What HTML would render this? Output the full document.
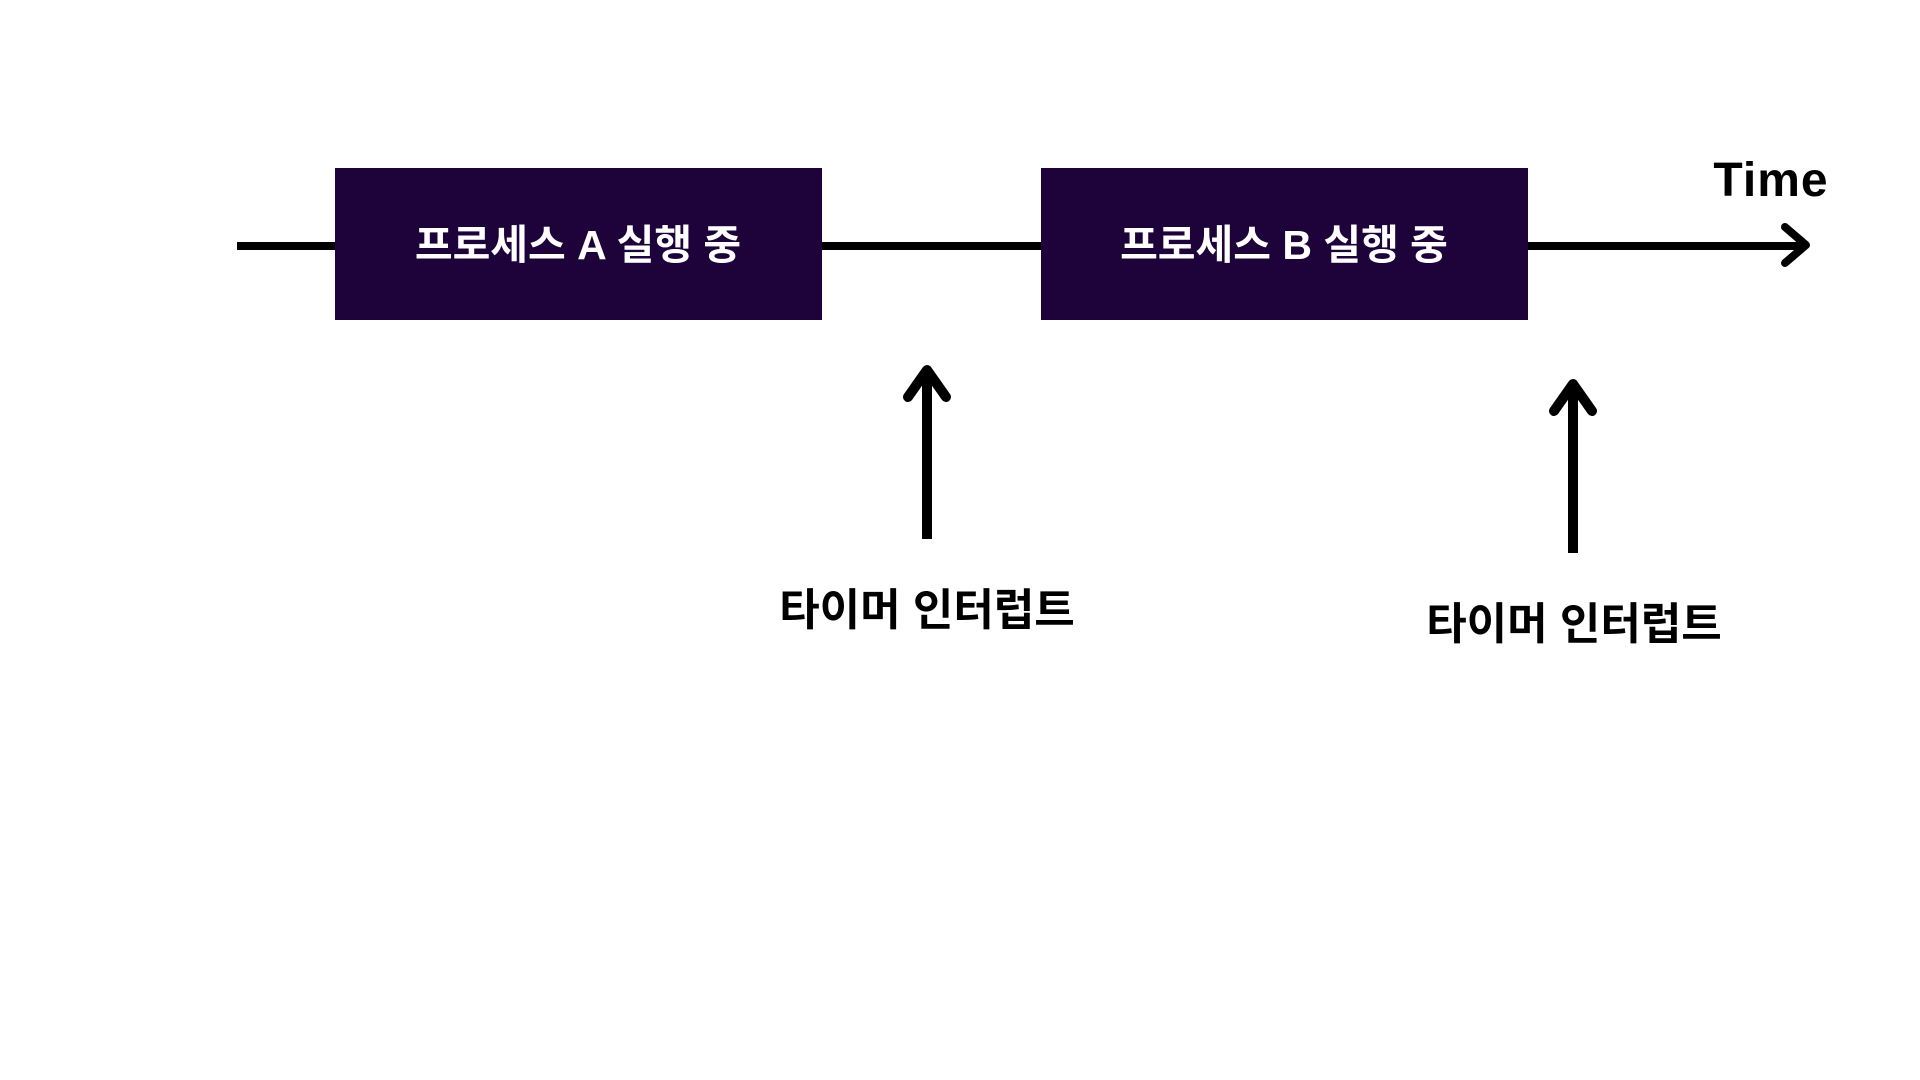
<!DOCTYPE html>
<html><head><meta charset="utf-8"><style>
html,body{margin:0;padding:0;background:#fff;}
svg{display:block;}
text{font-family:"Liberation Sans","Noto Sans CJK KR","NanumGothic",sans-serif;font-weight:bold;}
</style></head><body>
<svg width="1920" height="1080" viewBox="0 0 1920 1080" xmlns="http://www.w3.org/2000/svg">
<rect width="1920" height="1080" fill="#fff"/>
<line x1="237" y1="246" x2="1806" y2="246" stroke="#000" stroke-width="8"/>
<polyline points="1785,227 1806,245 1785,263" fill="none" stroke="#000" stroke-width="8" stroke-linecap="round" stroke-linejoin="round"/>
<rect x="335" y="168" width="487" height="152" fill="#1e033b"/>
<rect x="1041" y="168" width="487" height="152" fill="#1e033b"/>
<text x="578" y="259" font-size="41" fill="#fff" text-anchor="middle">프로세스 A 실행 중</text>
<text x="1284" y="259" font-size="41" fill="#fff" text-anchor="middle">프로세스 B 실행 중</text>
<text x="1771" y="196" font-size="48" fill="#000" text-anchor="middle" letter-spacing="1">Time</text>
<line x1="927" y1="539" x2="927" y2="372" stroke="#000" stroke-width="10"/>
<polyline points="908,397 927,370 946,397" fill="none" stroke="#000" stroke-width="10" stroke-linecap="round" stroke-linejoin="round"/>
<line x1="1573" y1="553" x2="1573" y2="386" stroke="#000" stroke-width="10"/>
<polyline points="1554,411 1573,384 1592,411" fill="none" stroke="#000" stroke-width="10" stroke-linecap="round" stroke-linejoin="round"/>
<text x="927" y="625" font-size="44" fill="#000" text-anchor="middle">타이머 인터럽트</text>
<text x="1574" y="639" font-size="44" fill="#000" text-anchor="middle">타이머 인터럽트</text>
</svg>
</body></html>
